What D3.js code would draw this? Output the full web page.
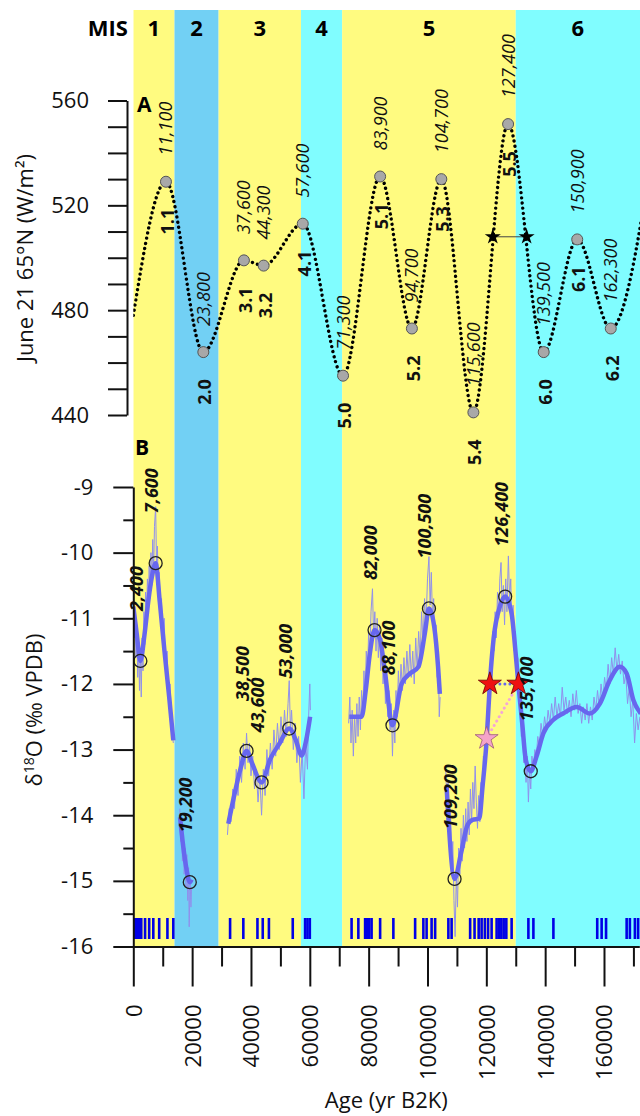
<!DOCTYPE html>
<html>
<head>
<meta charset="utf-8">
<script src="https://cdn.jsdelivr.net/npm/d3@7"></script>
<style>
	body { margin: 0; background: #fff; }
	svg { display: block; font-family: "Open Sans", sans-serif; }
</style>
</head>
<body>
<svg></svg>
<script>
const width = 640
const height = 1116

// marine isotope stages (yr B2K)
const misLabels = ["1", "2", "3", "4", "5", "6"]
const misStart = [0, 14000, 29000, 57000, 71000, 130000]
const misEnd = [14000, 29000, 57000, 71000, 130000, 191000]
const misColors = ["#fffb80", "#72d0f4", "#fffb80", "#80fdff", "#fffb80", "#80fdff"]

// A: June 21 insolation at 65N, turning points
const insolAge = [11100, 23800, 37600, 44300, 57600, 71300, 83900, 94700, 104700, 115600, 127400, 139500, 150900, 162300]
const insolValue = [529, 464, 499, 497, 513, 455, 531, 473, 530, 441, 551, 464, 507, 473]
const insolStage = ["1.1", "2.0", "3.1", "3.2", "4.1", "5.0", "5.1", "5.2", "5.3", "5.4", "5.5", "6.0", "6.1", "6.2"]
const insolEdgeAge = [0, 176000]
const insolEdgeValue = [478, 537]
const starAgeA = [122200, 133700]
const starValueA = 508

// B: d18O peaks marked with circles
const peakAge = [2400, 7600, 19200, 38500, 43600, 53000, 82000, 88100, 100500, 109200, 126400, 135100]
const peakValue = [-11.65, -10.16, -15.02, -13.02, -13.5, -12.68, -11.18, -12.63, -10.85, -14.97, -10.67, -13.33]
const redStarAge = [121200, 130900]
const redStarValue = -12.0
const pinkStarAge = 120100
const pinkStarValue = -12.83

// smoothed record, [ka, permil], null = gap
const smoothSeries = [
	[0, -10.82], [1.2, -11.25], [2.4, -11.65], [3.8, -11.25], [5.2, -10.7], [6.4, -10.35], [7.6, -10.16], [9.0, -10.75], [10.6, -11.5], [12.2, -12.2], [13.6, -12.86],
	null,
	[15.9, -14.03], [16.9, -14.45], [18.0, -14.8], [19.2, -15.02], [19.8, -14.98],
	null,
	[32.3, -14.13], [34.3, -13.7], [36.4, -13.3], [38.5, -13.02], [40.3, -13.2], [43.6, -13.5], [46.5, -13.15], [49.8, -12.9], [53.0, -12.68], [55.2, -12.85], [57.2, -13.09], [58.8, -12.85], [60.1, -12.5],
	null,
	[73.4, -12.5], [77.6, -12.5], [79.0, -12.1], [80.4, -11.54], [82.0, -11.18], [83.9, -11.33], [85.6, -11.84], [88.1, -12.63], [91.2, -12.0], [94.1, -11.84], [96.9, -11.74], [99.1, -11.23], [100.5, -10.85], [102.3, -11.13], [103.6, -11.74], [104.2, -12.15],
	null,
	[106.5, -13.57], [109.2, -14.97], [111.4, -14.58], [113.6, -14.15], [115.3, -14.07], [117.6, -14.05], [118.7, -13.57], [120.1, -12.86], [121.2, -12.0], [122.5, -11.3], [124.6, -10.82], [126.4, -10.67], [128.6, -10.93], [129.9, -11.5], [130.9, -12.0], [132.2, -12.6], [133.4, -13.15], [135.1, -13.33], [137.1, -13.1], [139.4, -12.75], [142.7, -12.55], [146.1, -12.45], [150.7, -12.35], [155.2, -12.45], [158.6, -12.3], [162.0, -11.94], [165.4, -11.74], [167.7, -11.84], [170.0, -12.25], [172.5, -12.45]
]

// raw record, [ka, permil], null = gap
const rawSeries = [
	[0.0, -10.7], [0.3, -11.3], [0.6, -10.9], [0.9, -11.6], [1.2, -11.1], [1.5, -11.9], [1.8, -11.4], [2.1, -12.1], [2.4, -11.5], [2.7, -12.2], [3.0, -11.3], [3.3, -11.8], [3.6, -10.9], [3.9, -11.4], [4.2, -10.6], [4.5, -11.0], [4.8, -10.4], [5.1, -10.8], [5.4, -10.2], [5.7, -10.7], [6.0, -10.0], [6.3, -10.5], [6.6, -9.8], [6.9, -10.3], [7.2, -9.6], [7.6, -9.3], [7.9, -10.2], [8.2, -9.9], [8.5, -10.6], [8.8, -10.3], [9.2, -11.0], [9.6, -10.7], [10.0, -11.3], [10.5, -11.0], [11.0, -11.8], [11.5, -11.5], [12.0, -12.2], [12.5, -12.0], [13.0, -12.6], [13.6, -12.9],
	null,
	[15.8, -13.9], [16.1, -14.4], [16.4, -14.1], [16.7, -14.7], [17.0, -14.3], [17.3, -14.9], [17.6, -14.5], [17.9, -15.1], [18.2, -14.6], [18.5, -15.3], [18.8, -14.8], [19.0, -15.7], [19.3, -15.0], [19.6, -15.4], [19.8, -15.1],
	null,
	[32.0, -14.3], [32.6, -13.9], [33.2, -14.1], [33.8, -13.6], [34.4, -13.9], [35.0, -13.3], [35.6, -13.7], [36.2, -13.1], [36.8, -13.5], [37.4, -12.9], [38.0, -13.3], [38.5, -12.75], [39.0, -13.2], [39.5, -12.9], [40.0, -13.4], [40.6, -13.1], [41.2, -13.6], [41.8, -13.3], [42.4, -13.8], [43.0, -13.4], [43.6, -14.0], [44.2, -13.3], [44.8, -13.7], [45.4, -13.0], [46.0, -13.4], [46.6, -12.9], [47.2, -13.3], [47.8, -12.7], [48.4, -13.1], [49.0, -12.6], [49.6, -13.0], [50.2, -12.5], [50.8, -12.9], [51.4, -12.4], [52.0, -12.8], [52.6, -12.3], [53.0, -11.95], [53.4, -12.7], [53.8, -12.4], [54.4, -13.0], [55.0, -12.6], [55.6, -13.2], [56.2, -12.8], [56.8, -13.5], [57.4, -13.0], [58.0, -13.75], [58.6, -12.9], [59.2, -13.3], [59.6, -12.5], [60.0, -12.0], [60.2, -12.4],
	null,
	[73.2, -12.6], [73.6, -12.2], [74.0, -12.9], [74.4, -12.4], [74.8, -13.1], [75.2, -12.5], [75.6, -12.9], [76.0, -12.3], [76.4, -12.8], [76.8, -12.2], [77.2, -12.7], [77.6, -12.1], [78.0, -12.5], [78.4, -11.8], [78.8, -12.2], [79.2, -11.5], [79.6, -11.9], [80.0, -11.2], [80.4, -11.6], [80.8, -10.9], [81.3, -10.55], [81.7, -11.3], [82.1, -10.9], [82.5, -11.5], [82.9, -11.0], [83.3, -11.6], [83.7, -11.1], [84.1, -11.8], [84.5, -11.3], [84.9, -12.0], [85.3, -11.6], [85.7, -12.3], [86.1, -11.8], [86.5, -12.5], [86.9, -12.1], [87.3, -12.7], [87.7, -12.3], [88.1, -13.1], [88.5, -12.4], [88.9, -12.9], [89.3, -12.1], [89.7, -12.5], [90.1, -11.8], [90.5, -12.2], [91.0, -11.7], [91.5, -12.1], [92.0, -11.6], [92.5, -12.0], [93.0, -11.5], [93.5, -11.9], [94.0, -11.4], [94.5, -11.9], [95.0, -11.5], [95.5, -12.0], [96.0, -11.3], [96.5, -11.8], [97.0, -11.2], [97.5, -11.6], [98.0, -10.9], [98.5, -11.4], [99.0, -10.7], [99.5, -11.1], [100.0, -10.4], [100.5, -10.06], [100.9, -10.8], [101.3, -10.3], [101.7, -11.0], [102.1, -10.7], [102.5, -11.4], [102.9, -11.1], [103.3, -11.9], [103.7, -11.6], [104.0, -12.5], [104.3, -12.2],
	null,
	[106.2, -13.3], [106.6, -13.8], [107.0, -13.5], [107.4, -14.2], [107.8, -13.9], [108.2, -14.7], [108.6, -14.4], [109.0, -15.3], [109.4, -15.85], [109.8, -14.9], [110.2, -15.4], [110.6, -14.5], [111.0, -14.9], [111.4, -14.2], [111.8, -14.7], [112.2, -14.0], [112.6, -14.5], [113.0, -13.9], [113.4, -14.4], [113.8, -13.8], [114.2, -14.3], [114.6, -13.6], [115.0, -14.1], [115.4, -13.5], [115.8, -13.9], [116.2, -13.25], [116.6, -13.8], [117.0, -14.2], [117.4, -13.7], [117.8, -14.1], [118.2, -13.5], [118.6, -13.8], [119.0, -13.1], [119.4, -13.4], [119.8, -12.7], [120.2, -12.9], [120.6, -12.2], [121.0, -12.5], [121.4, -11.7], [121.8, -12.0], [122.2, -11.2], [122.6, -11.5], [123.0, -10.9], [123.4, -11.3], [123.8, -10.6], [124.2, -11.0], [124.6, -10.4], [125.0, -10.15], [125.4, -10.9], [125.8, -10.5], [126.2, -11.1], [126.6, -10.4], [127.0, -10.9], [127.5, -10.05], [127.9, -10.7], [128.3, -10.4], [128.7, -11.1], [129.1, -10.8], [129.5, -11.5], [129.9, -11.2], [130.3, -11.9], [130.7, -11.6], [131.1, -12.3], [131.5, -12.0], [131.9, -12.8], [132.3, -12.5], [132.7, -13.2], [133.1, -12.9], [133.5, -13.5], [133.9, -13.1], [134.3, -13.8], [134.7, -13.3], [135.1, -13.6], [135.5, -13.1],
	[136.0, -13.3], [136.5, -13.0], [137.0, -13.1], [137.5, -12.8], [138.0, -12.95], [138.6, -12.6], [139.2, -12.8], [139.8, -12.5], [140.4, -12.7], [141.0, -12.4], [141.6, -12.6], [142.2, -12.3], [142.8, -12.55], [143.4, -12.2], [144.0, -12.5], [144.6, -12.3], [145.2, -12.5], [145.8, -12.05], [146.4, -12.4], [147.0, -12.2], [147.6, -12.45], [148.2, -12.25], [148.8, -12.5], [149.4, -12.15], [150.0, -12.4], [150.6, -12.1], [151.2, -12.45], [151.8, -12.3], [152.4, -12.6], [153.0, -12.35], [153.6, -12.55], [154.2, -12.3], [154.8, -12.6], [155.4, -12.35], [156.0, -12.55], [156.6, -12.2], [157.2, -12.4], [157.8, -12.1], [158.4, -12.35], [159.0, -12.0], [159.6, -12.25], [160.2, -11.9], [160.8, -12.1], [161.4, -11.7], [162.0, -12.0], [162.6, -11.6], [163.2, -11.85], [163.8, -11.45], [164.4, -11.8], [165.0, -11.55], [165.6, -11.85], [166.2, -11.65], [166.8, -12.0], [167.4, -11.85], [168.0, -12.3], [168.6, -12.05], [169.2, -12.5], [169.8, -12.25], [170.4, -12.9], [171.0, -12.45], [171.6, -12.7], [172.2, -12.5]
]

// U-Th dates (ka)
const datingAges = [0.2, 0.7, 1.2, 1.7, 2.2, 2.7, 4.0, 5.4, 6.8, 8.8, 11.6, 13.6,
	32.9, 37.4, 42.2, 44.0, 46.1, 54.2, 58.4, 59.2, 60.0,
	74.2, 76.5, 78.8, 79.5, 80.2, 81.0, 83.9, 88.4,
	95.8, 98.6, 99.7, 101.4, 102.6, 107.1, 108.2,
	114.5, 116.0, 117.4, 118.4, 119.5, 120.6, 121.8, 123.5, 124.3, 125.1, 125.9, 126.8, 128.6,
	134.3, 136.0, 142.8, 157.7, 159.2, 160.7, 167.7, 168.8, 170.5, 171.6]

const insolTicks = d3.range(440, 561, 10)
const d18OTicks = d3.range(-16, -8.9, 0.5)
const ageTicks = d3.range(0, 172001, 10000)

const svg = d3.select("svg")
	.attr("width", width)
	.attr("height", height)

const x = d3.scaleLinear()
	.domain([0, 172000])
	.range([133.3, 639.3])

const yA = d3.scaleLinear()
	.domain([440, 560])
	.range([415, 100.5])

const yB = d3.scaleLinear()
	.domain([-16, -9])
	.range([946.5, 487])

const bandTop = 10
const fmt = d3.format(",")

svg.append("defs")
	.append("clipPath")
	.attr("id", "plot")
	.append("rect")
	.attr("x", x(0))
	.attr("y", 0)
	.attr("width", width - x(0))
	.attr("height", yB(-16))

const plot = svg.append("g").attr("clip-path", "url(#plot)")

plot.selectAll("rect.band")
	.data(misLabels)
	.enter()
	.append("rect")
	.attr("class", "band")
	.attr("x", (d, i) => { return x(misStart[i]) })
	.attr("y", bandTop)
	.attr("width", (d, i) => { return x(misEnd[i]) - x(misStart[i]) })
	.attr("height", yB(-16) - bandTop)
	.style("fill", (d, i) => { return misColors[i] })

svg.append("text")
	.attr("x", 128)
	.attr("y", 36)
	.attr("text-anchor", "end")
	.attr("font-size", 22)
	.attr("font-weight", "bold")
	.text("MIS")

// stage numbers sit in the middle of the visible part of each band
svg.selectAll("text.mis")
	.data(misLabels)
	.enter()
	.append("text")
	.attr("class", "mis")
	.attr("x", (d, i) => { return (x(misStart[i]) + Math.min(x(misEnd[i]), width)) / 2 })
	.attr("y", 36)
	.attr("text-anchor", "middle")
	.attr("font-size", 22)
	.attr("font-weight", "bold")
	.text(d => d)

// ---- panel A ----
const insolLine = d3.line()
	.x(d => x(d[0]))
	.y(d => yA(d[1]))
	.curve(d3.curveMonotoneX)

const insolCurve = d3.zip(
	[insolEdgeAge[0], ...insolAge, insolEdgeAge[1]],
	[insolEdgeValue[0], ...insolValue, insolEdgeValue[1]]
)

plot.append("path")
	.datum(insolCurve)
	.attr("d", insolLine)
	.attr("fill", "none")
	.attr("stroke", "#000")
	.attr("stroke-width", 3.4)
	.attr("stroke-linecap", "round")
	.attr("stroke-dasharray", "0.01 5.2")

plot.append("line")
	.attr("x1", x(starAgeA[0]))
	.attr("x2", x(starAgeA[1]))
	.attr("y1", yA(starValueA))
	.attr("y2", yA(starValueA))
	.attr("stroke", "#444")
	.attr("stroke-width", 1)

plot.selectAll("path.starA")
	.data(starAgeA)
	.enter()
	.append("path")
	.attr("class", "starA")
	.attr("transform", d => `translate(${x(d)},${yA(starValueA)})`)
	.attr("d", d3.symbol(d3.symbolStar).size(80))
	.attr("fill", "#000")

plot.selectAll("circle.insol")
	.data(insolAge)
	.enter()
	.append("circle")
	.attr("class", "insol")
	.attr("cx", d => x(d))
	.attr("cy", (d, i) => yA(insolValue[i]))
	.attr("r", 5.5)
	.attr("fill", "#a8a8a8")
	.attr("stroke", "#555")
	.attr("stroke-width", 1)

svg.selectAll("text.insolAge")
	.data(insolAge)
	.enter()
	.append("text")
	.attr("class", "insolAge")
	.attr("transform", (d, i) => `translate(${x(d) + 6.5},${yA(insolValue[i]) - 26}) rotate(-90)`)
	.attr("font-size", 18)
	.attr("font-style", "italic")
	.attr("fill", "#111")
	.text(d => fmt(d))

svg.selectAll("text.stage")
	.data(insolStage)
	.enter()
	.append("text")
	.attr("class", "stage")
	.attr("transform", (d, i) => `translate(${x(insolAge[i]) + 8},${yA(insolValue[i]) + 27}) rotate(-90)`)
	.attr("text-anchor", "end")
	.attr("font-size", 18)
	.attr("font-weight", "bold")
	.attr("fill", "#111")
	.text(d => d)

// ---- panel B ----
const d18OLine = d3.line()
	.defined(d => d !== null)
	.x(d => x(d[0] * 1000))
	.y(d => yB(d[1]))

plot.append("path")
	.datum(rawSeries)
	.attr("d", d18OLine)
	.attr("fill", "none")
	.attr("stroke", "#9090ec")
	.attr("stroke-width", 1)

plot.append("path")
	.datum(smoothSeries)
	.attr("d", d18OLine.curve(d3.curveMonotoneX))
	.attr("fill", "none")
	.attr("stroke", "#6767ee")
	.attr("stroke-width", 4.5)
	.attr("stroke-linejoin", "round")

plot.append("line")
	.attr("x1", x(pinkStarAge))
	.attr("y1", yB(pinkStarValue))
	.attr("x2", x(redStarAge[1]))
	.attr("y2", yB(redStarValue))
	.attr("stroke", "#f4a6d6")
	.attr("stroke-width", 3)
	.attr("stroke-linecap", "round")
	.attr("stroke-dasharray", "0.01 5")

plot.append("line")
	.attr("x1", x(redStarAge[0]))
	.attr("y1", yB(redStarValue))
	.attr("x2", x(redStarAge[1]))
	.attr("y2", yB(redStarValue))
	.attr("stroke", "#6767ee")
	.attr("stroke-width", 3)
	.attr("stroke-linecap", "round")
	.attr("stroke-dasharray", "0.01 5")

plot.selectAll("circle.peak")
	.data(peakAge)
	.enter()
	.append("circle")
	.attr("class", "peak")
	.attr("cx", d => x(d))
	.attr("cy", (d, i) => yB(peakValue[i]))
	.attr("r", 6.5)
	.attr("fill", "none")
	.attr("stroke", "#222")
	.attr("stroke-width", 1.3)

plot.append("path")
	.attr("transform", `translate(${x(pinkStarAge)},${yB(pinkStarValue)})`)
	.attr("d", d3.symbol(d3.symbolStar).size(165))
	.attr("fill", "#f5a3c9")
	.attr("stroke", "#9a5a78")
	.attr("stroke-width", 0.8)

plot.selectAll("path.redStar")
	.data(redStarAge)
	.enter()
	.append("path")
	.attr("class", "redStar")
	.attr("transform", d => `translate(${x(d)},${yB(redStarValue)})`)
	.attr("d", d3.symbol(d3.symbolStar).size(165))
	.attr("fill", "#ee1111")
	.attr("stroke", "#6a0000")
	.attr("stroke-width", 0.8)

svg.selectAll("text.peak")
	.data(peakAge)
	.enter()
	.append("text")
	.attr("class", "peak")
	.attr("transform", (d, i) => `translate(${x(d) + 2.5},${yB(peakValue[i]) - 50}) rotate(-90)`)
	.attr("font-size", 18)
	.attr("font-weight", "bold")
	.attr("font-style", "italic")
	.attr("fill", "#111")
	.text(d => fmt(d))

plot.selectAll("line.date")
	.data(datingAges)
	.enter()
	.append("line")
	.attr("class", "date")
	.attr("x1", d => x(d * 1000))
	.attr("x2", d => x(d * 1000))
	.attr("y1", 918)
	.attr("y2", 939)
	.attr("stroke", "#0000e6")
	.attr("stroke-width", 2.6)

// ---- axes ----
function styleAxis(g) {
	g.attr("font-family", null)
		.attr("font-size", 22)
	g.selectAll("line, path")
		.attr("stroke", "#111")
		.attr("stroke-width", 2)
	g.selectAll("text").attr("fill", "#111")
}

svg.append("g")
	.attr("transform", "translate(127,0)")
	.call(d3.axisLeft(yA)
		.tickValues(insolTicks)
		.tickSize(19)
		.tickSizeOuter(0)
		.tickPadding(19)
		.tickFormat(d => d % 40 === 0 ? d : ""))
	.call(styleAxis)

const axisB = svg.append("g")
	.attr("transform", `translate(${x(0)},0)`)
	.call(d3.axisLeft(yB)
		.tickValues(d18OTicks)
		.tickSize(20)
		.tickSizeOuter(0)
		.tickPadding(20)
		.tickFormat(d => Number.isInteger(d) ? d : ""))
	.call(styleAxis)

axisB.selectAll(".tick line")
	.attr("x2", d => Number.isInteger(d) ? -20 : -10)

const axisX = svg.append("g")
	.attr("transform", `translate(0,${yB(-16)})`)
	.call(d3.axisBottom(x)
		.tickValues(ageTicks)
		.tickSize(40)
		.tickSizeOuter(0)
		.tickFormat(d => d % 20000 === 0 ? d : ""))
	.call(styleAxis)

axisX.selectAll(".tick line")
	.attr("y2", d => d % 20000 === 0 ? 40 : 20)

axisX.selectAll(".tick text")
	.attr("transform", "rotate(-90)")
	.attr("x", -58)
	.attr("y", 0)
	.attr("dy", "0.36em")
	.attr("text-anchor", "end")

// titles
svg.append("text")
	.attr("transform", "translate(33,258) rotate(-90)")
	.attr("text-anchor", "middle")
	.attr("font-size", 22)
	.attr("fill", "#111")
	.text("June 21 65°N (W/m²)")

const titleB = svg.append("text")
	.attr("transform", "translate(42,710) rotate(-90)")
	.attr("text-anchor", "middle")
	.attr("font-size", 22)
	.attr("fill", "#111")

titleB.append("tspan").text("δ")
titleB.append("tspan").attr("font-size", 14).attr("dy", -8).text("18")
titleB.append("tspan").attr("dy", 8).text("O (‰ VPDB)")

svg.append("text")
	.attr("x", x(86000))
	.attr("y", 1108)
	.attr("text-anchor", "middle")
	.attr("font-size", 22)
	.attr("fill", "#111")
	.text("Age (yr B2K)")

svg.append("text")
	.attr("x", 137)
	.attr("y", 112)
	.attr("font-size", 21)
	.attr("font-weight", "bold")
	.text("A")

svg.append("text")
	.attr("x", 135)
	.attr("y", 455)
	.attr("font-size", 21)
	.attr("font-weight", "bold")
	.text("B")
</script>
</body>
</html>
